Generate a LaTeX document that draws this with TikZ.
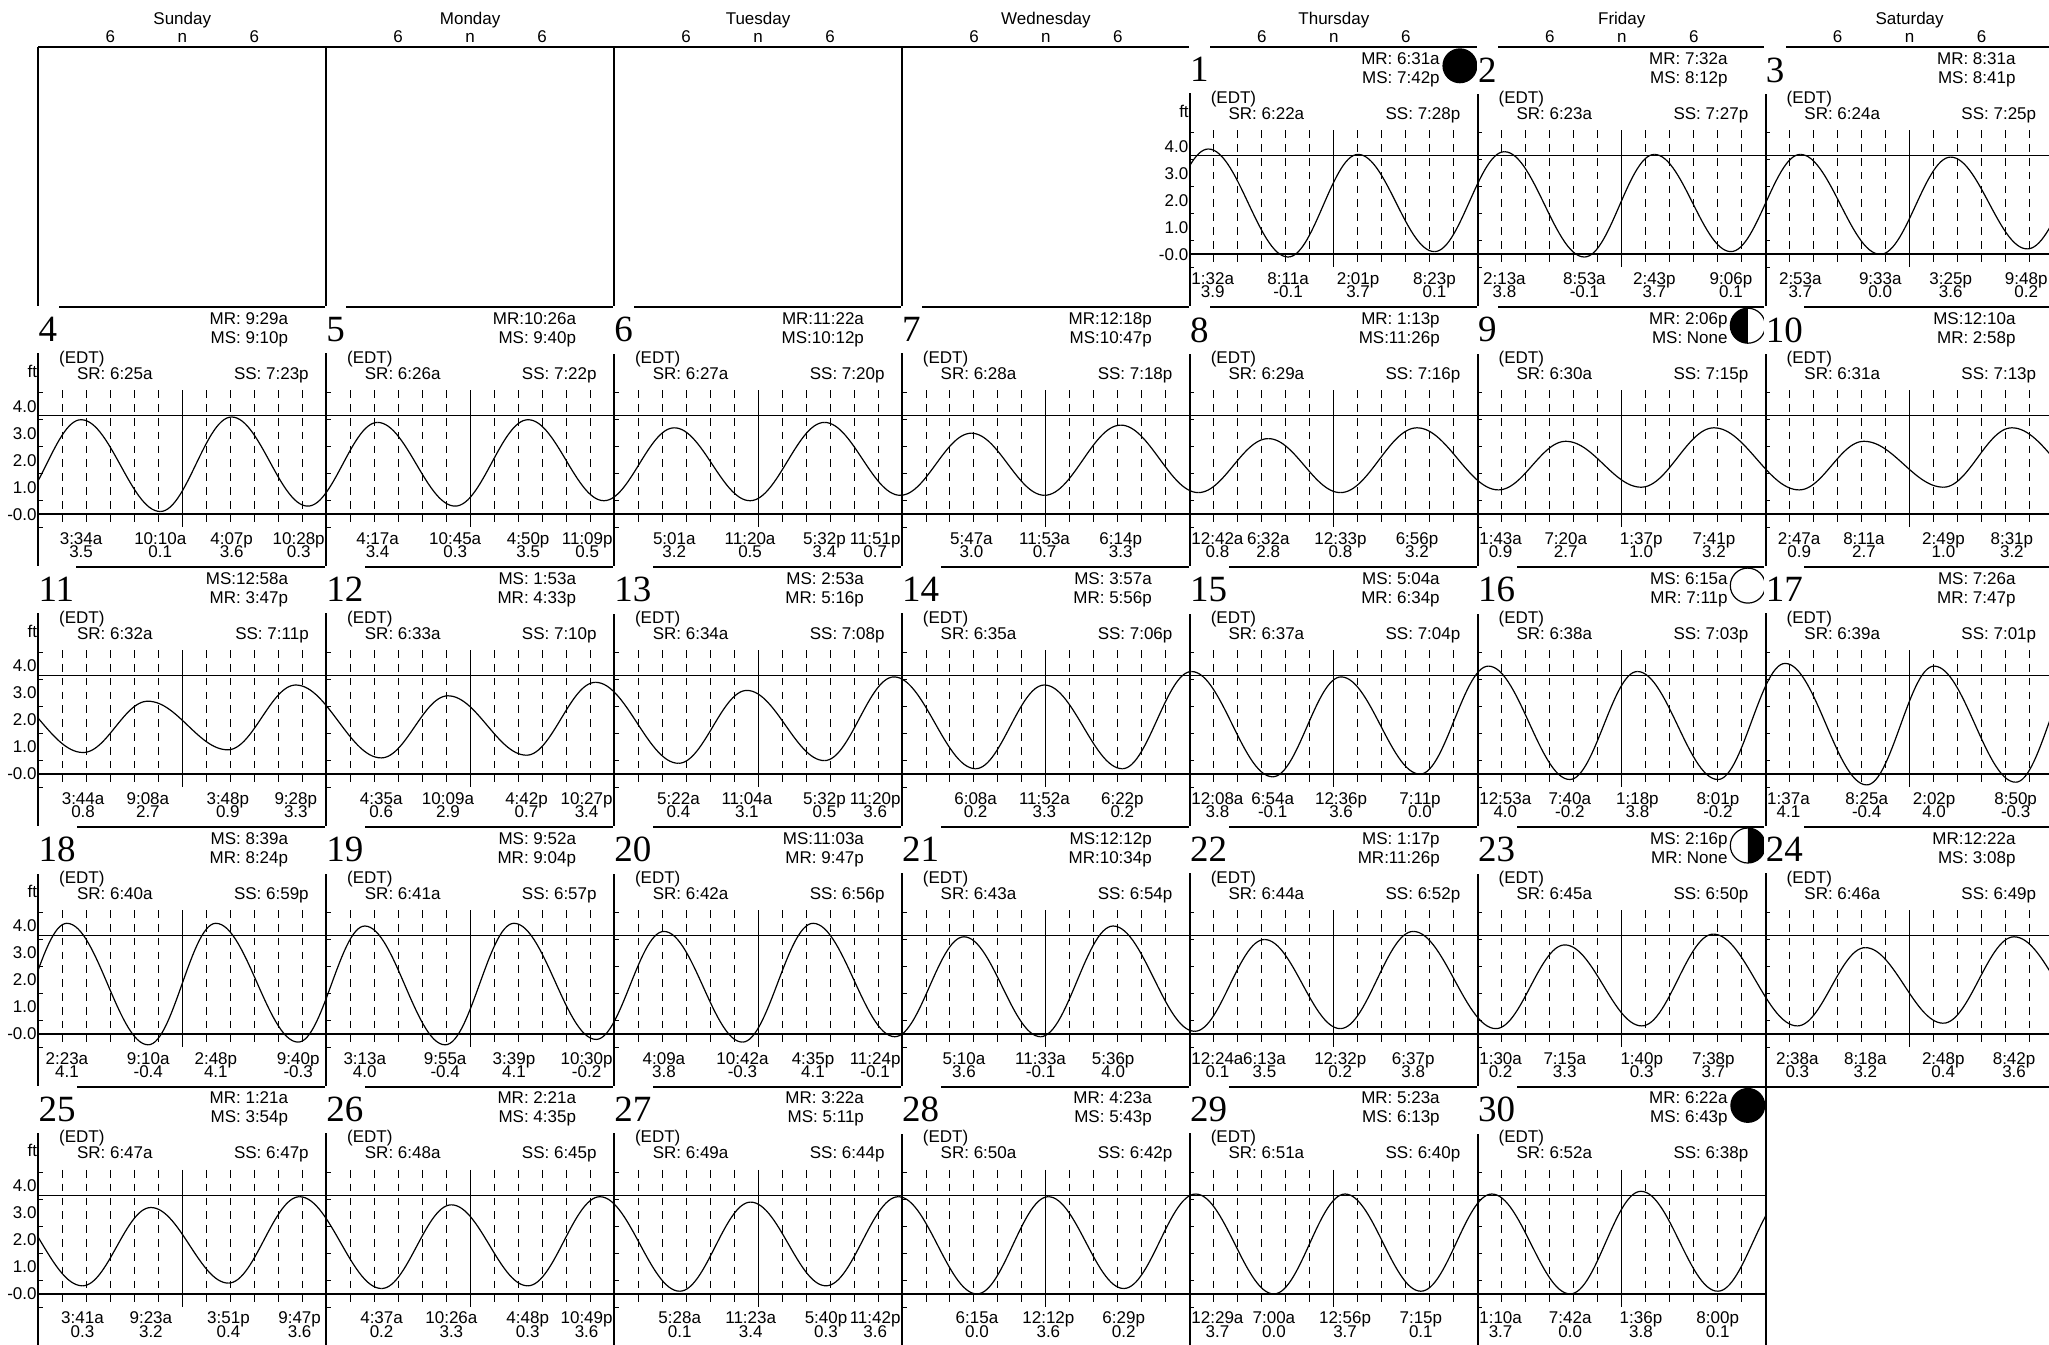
\documentclass[tikz,border=0pt]{standalone}
\usepackage{fontspec}
\setmainfont{Liberation Sans}
\newfontfamily\serifnum{Liberation Serif}
\usetikzlibrary{calc}

\newcommand{\lblfont}{\fontsize{17}{17}\selectfont}
\tikzset{
  cellborder/.style={line width=2.3pt},
  refline/.style={line width=1pt},
  hourline/.style={line width=1pt,dash pattern=on 7.7pt off 6.13pt},
  tidecurve/.style={line width=1.2pt,line join=round},
  lbl/.style={font=\lblfont,inner sep=0pt},
  daynum/.style={font=\serifnum\fontsize{37}{37}\selectfont,fill=white,inner xsep=1.5pt,inner ysep=11.5pt,anchor=north west},
  moon/.style={line width=1.2pt}
}

\newcommand{\daycell}[8]{%
  \pgfmathsetmacro\cx{38.3+#1*287.9}%
  \pgfmathsetmacro\cy{47.3+#2*259.9}%
  \node[daynum] (day#3) at (\cx-1.5,\cy-1.5) {#3};
  \node[lbl,anchor=base east] (mr#3) at (\cx+250,\cy+17) {#4};
  \node[lbl,anchor=base east] (ms#3) at (\cx+250,\cy+36) {#5};
  \node[lbl,anchor=base west] (edt#3) at (\cx+20.7,\cy+56) {(EDT)};
  \node[lbl,anchor=base west] (sr#3) at (\cx+38.5,\cy+72) {SR: #6};
  \node[lbl,anchor=base east] (ss#3) at (\cx+270.6,\cy+72) {SS: #7};
  \pgfmathsetmacro\mx{\cx+270}%
  \pgfmathsetmacro\my{\cy+18.5}%
  \ifcase#8\relax
  \or
    \fill (\mx,\my) circle[radius=17.5];
  \or
    \draw[moon,fill=white] (\mx,\my) circle[radius=17.5];
    \begin{scope}
      \clip (\mx-20,\my-20) rectangle (\mx,\my+20);
      \fill (\mx,\my) circle[radius=17.5];
    \end{scope}
  \or
    \draw[moon,fill=white] (\mx,\my) circle[radius=17.5];
  \or
    \draw[moon,fill=white] (\mx,\my) circle[radius=17.5];
    \begin{scope}
      \clip (\mx,\my-20) rectangle (\mx+20,\my+20);
      \fill (\mx,\my) circle[radius=17.5];
    \end{scope}
  \fi
}

\newcommand{\tiderow}[4]{%
  \pgfmathsetmacro\ry{47.3+#1*259.9}%
  \pgfmathsetmacro\ax{\ry+207}%
  \pgfmathsetmacro\xa{38.3+#2*287.9}%
  \pgfmathsetmacro\xb{min(38.3+(#3+1)*287.9,2049)}%
  \foreach \col in {#2,...,#3} {
    \pgfmathsetmacro\cx{38.3+\col*287.9}
    \foreach \hr in {2,4,6,8,10,14,16,18,20,22}
      \draw[hourline] (\cx+\hr*11.996,\ry+83) -- (\cx+\hr*11.996,\ry+215.2);
    \draw[refline] (\cx+143.95,\ry+83) -- (\cx+143.95,\ry+220);
    \foreach \v in {-0.5,0.5,...,4.5}
      \draw[refline] ({\cx},{\ax-27*(\v)}) -- ++(4.5,0);
  }
  \draw[refline] (\xa,\ry+108.4) -- (\xb,\ry+108.4);
  \draw[cellborder] (\xa,\ax) -- (\xb,\ax);
  \foreach \v/\tx in {0/-0.0,1/1.0,2/2.0,3/3.0,4/4.0}
    \node[lbl,anchor=east] (ft#1-\v) at (\xa-1.5,\ax-27*\v) {\tx};
  \node[lbl,anchor=base east] (ft#1) at (\xa-1,\ry+70) {ft};
  \begin{scope}
    \clip (\xa,\ry) rectangle (\xb,\ry+259.9);
    \foreach \col/\hh/\mm/\hv/\tm/\s [count=\i, evaluate=\col as \tnow using \col*24+\hh+\mm/60, remember=\tnow as \tprev (initially 0), remember=\hv as \hprev (initially 0)] in #4 {
      \ifnum\i>1
        \draw[tidecurve] plot[domain=\tprev:\tnow,samples=30] ({38.3+\x*11.996},{\ax-27*((\hprev+\hv)/2+(\hprev-\hv)/2*cos(180*(\x-(\tprev))/(\tnow-(\tprev))))});
      \fi
      \ifnum\s=1
        \pgfmathsetmacro\hw{0.85*width("\tm")}
        \pgfmathsetmacro\cl{38.3+\col*287.9}
        \pgfmathsetmacro\lx{max(\cl+\hw+1.5,min(38.3+\tnow*11.996,min(\cl+287.9,2049)-\hw-1.5))}
        \node[lbl,anchor=base] (tm#1-\i) at (\lx,\ry+237) {\tm};
        \node[lbl,anchor=base,fill=white] (ht#1-\i) at (\lx,\ry+250.5) {\hv};
      \fi
    }
  \end{scope}
}

\def\tidesA{3/19/45/0.2/x/0,4/1/32/3.9/1:32a/1,4/8/11/-0.1/8:11a/1,4/14/1/3.7/2:01p/1,4/20/23/0.1/8:23p/1,5/2/13/3.8/2:13a/1,5/8/53/-0.1/8:53a/1,5/14/43/3.7/2:43p/1,5/21/6/0.1/9:06p/1,6/2/53/3.7/2:53a/1,6/9/33/0.0/9:33a/1,6/15/25/3.6/3:25p/1,6/21/48/0.2/9:48p/1,7/3/34/3.5/x/0}
\def\tidesB{-1/21/48/0.2/x/0,0/3/34/3.5/3:34a/1,0/10/10/0.1/10:10a/1,0/16/7/3.6/4:07p/1,0/22/28/0.3/10:28p/1,1/4/17/3.4/4:17a/1,1/10/45/0.3/10:45a/1,1/16/50/3.5/4:50p/1,1/23/9/0.5/11:09p/1,2/5/1/3.2/5:01a/1,2/11/20/0.5/11:20a/1,2/17/32/3.4/5:32p/1,2/23/51/0.7/11:51p/1,3/5/47/3.0/5:47a/1,3/11/53/0.7/11:53a/1,3/18/14/3.3/6:14p/1,4/0/42/0.8/12:42a/1,4/6/32/2.8/6:32a/1,4/12/33/0.8/12:33p/1,4/18/56/3.2/6:56p/1,5/1/43/0.9/1:43a/1,5/7/20/2.7/7:20a/1,5/13/37/1.0/1:37p/1,5/19/41/3.2/7:41p/1,6/2/47/0.9/2:47a/1,6/8/11/2.7/8:11a/1,6/14/49/1.0/2:49p/1,6/20/31/3.2/8:31p/1,7/3/44/0.8/x/0}
\def\tidesC{-1/20/31/3.2/x/0,0/3/44/0.8/3:44a/1,0/9/8/2.7/9:08a/1,0/15/48/0.9/3:48p/1,0/21/28/3.3/9:28p/1,1/4/35/0.6/4:35a/1,1/10/9/2.9/10:09a/1,1/16/42/0.7/4:42p/1,1/22/27/3.4/10:27p/1,2/5/22/0.4/5:22a/1,2/11/4/3.1/11:04a/1,2/17/32/0.5/5:32p/1,2/23/20/3.6/11:20p/1,3/6/8/0.2/6:08a/1,3/11/52/3.3/11:52a/1,3/18/22/0.2/6:22p/1,4/0/8/3.8/12:08a/1,4/6/54/-0.1/6:54a/1,4/12/36/3.6/12:36p/1,4/19/11/0.0/7:11p/1,5/0/53/4.0/12:53a/1,5/7/40/-0.2/7:40a/1,5/13/18/3.8/1:18p/1,5/20/1/-0.2/8:01p/1,6/1/37/4.1/1:37a/1,6/8/25/-0.4/8:25a/1,6/14/2/4.0/2:02p/1,6/20/50/-0.3/8:50p/1,7/2/23/4.1/x/0}
\def\tidesD{-1/20/50/-0.3/x/0,0/2/23/4.1/2:23a/1,0/9/10/-0.4/9:10a/1,0/14/48/4.1/2:48p/1,0/21/40/-0.3/9:40p/1,1/3/13/4.0/3:13a/1,1/9/55/-0.4/9:55a/1,1/15/39/4.1/3:39p/1,1/22/30/-0.2/10:30p/1,2/4/9/3.8/4:09a/1,2/10/42/-0.3/10:42a/1,2/16/35/4.1/4:35p/1,2/23/24/-0.1/11:24p/1,3/5/10/3.6/5:10a/1,3/11/33/-0.1/11:33a/1,3/17/36/4.0/5:36p/1,4/0/24/0.1/12:24a/1,4/6/13/3.5/6:13a/1,4/12/32/0.2/12:32p/1,4/18/37/3.8/6:37p/1,5/1/30/0.2/1:30a/1,5/7/15/3.3/7:15a/1,5/13/40/0.3/1:40p/1,5/19/38/3.7/7:38p/1,6/2/38/0.3/2:38a/1,6/8/18/3.2/8:18a/1,6/14/48/0.4/2:48p/1,6/20/42/3.6/8:42p/1,7/3/41/0.3/x/0}
\def\tidesE{-1/20/42/3.6/x/0,0/3/41/0.3/3:41a/1,0/9/23/3.2/9:23a/1,0/15/51/0.4/3:51p/1,0/21/47/3.6/9:47p/1,1/4/37/0.2/4:37a/1,1/10/26/3.3/10:26a/1,1/16/48/0.3/4:48p/1,1/22/49/3.6/10:49p/1,2/5/28/0.1/5:28a/1,2/11/23/3.4/11:23a/1,2/17/40/0.3/5:40p/1,2/23/42/3.6/11:42p/1,3/6/15/0.0/6:15a/1,3/12/12/3.6/12:12p/1,3/18/29/0.2/6:29p/1,4/0/29/3.7/12:29a/1,4/7/0/0.0/7:00a/1,4/12/56/3.7/12:56p/1,4/19/15/0.1/7:15p/1,5/1/10/3.7/1:10a/1,5/7/42/0.0/7:42a/1,5/13/36/3.8/1:36p/1,5/20/0/0.1/8:00p/1,6/1/50/3.7/x/0}

\begin{document}
\begin{tikzpicture}[x=1pt,y=-1pt]
\useasboundingbox (0,0) rectangle (2049,1344);
\foreach \d [count=\i from 0] in {Sunday,Monday,Tuesday,Wednesday,Thursday,Friday,Saturday} {
  \node[lbl,anchor=base] (wd\i) at (38.3+\i*287.9+143.95,24) {\d};
  \foreach \hr/\mk in {6/6,12/n,18/6}
    \node[lbl,anchor=base] (hd\i-\hr) at (38.3+\i*287.9+\hr*11.996,42.7) {\mk};
}
\foreach \r in {0,...,4}
  \draw[cellborder] (38.3,47.3+\r*259.9) -- (2049,47.3+\r*259.9);
\foreach \r in {0,...,4}
  \foreach \c in {0,...,6}
    \draw[cellborder] (38.3+\c*287.9,47.3+\r*259.9) -- ++(0,259.9);

\tiderow{0}{4}{6}{\tidesA}
\tiderow{1}{0}{6}{\tidesB}
\tiderow{2}{0}{6}{\tidesC}
\tiderow{3}{0}{6}{\tidesD}
\tiderow{4}{0}{5}{\tidesE}

\daycell{4}{0}{1}{MR: 6:31a}{MS: 7:42p}{6:22a}{7:28p}{1}
\daycell{5}{0}{2}{MR: 7:32a}{MS: 8:12p}{6:23a}{7:27p}{0}
\daycell{6}{0}{3}{MR: 8:31a}{MS: 8:41p}{6:24a}{7:25p}{0}
\daycell{0}{1}{4}{MR: 9:29a}{MS: 9:10p}{6:25a}{7:23p}{0}
\daycell{1}{1}{5}{MR:10:26a}{MS: 9:40p}{6:26a}{7:22p}{0}
\daycell{2}{1}{6}{MR:11:22a}{MS:10:12p}{6:27a}{7:20p}{0}
\daycell{3}{1}{7}{MR:12:18p}{MS:10:47p}{6:28a}{7:18p}{0}
\daycell{4}{1}{8}{MR: 1:13p}{MS:11:26p}{6:29a}{7:16p}{0}
\daycell{5}{1}{9}{MR: 2:06p}{MS: None}{6:30a}{7:15p}{2}
\daycell{6}{1}{10}{MS:12:10a}{MR: 2:58p}{6:31a}{7:13p}{0}
\daycell{0}{2}{11}{MS:12:58a}{MR: 3:47p}{6:32a}{7:11p}{0}
\daycell{1}{2}{12}{MS: 1:53a}{MR: 4:33p}{6:33a}{7:10p}{0}
\daycell{2}{2}{13}{MS: 2:53a}{MR: 5:16p}{6:34a}{7:08p}{0}
\daycell{3}{2}{14}{MS: 3:57a}{MR: 5:56p}{6:35a}{7:06p}{0}
\daycell{4}{2}{15}{MS: 5:04a}{MR: 6:34p}{6:37a}{7:04p}{0}
\daycell{5}{2}{16}{MS: 6:15a}{MR: 7:11p}{6:38a}{7:03p}{3}
\daycell{6}{2}{17}{MS: 7:26a}{MR: 7:47p}{6:39a}{7:01p}{0}
\daycell{0}{3}{18}{MS: 8:39a}{MR: 8:24p}{6:40a}{6:59p}{0}
\daycell{1}{3}{19}{MS: 9:52a}{MR: 9:04p}{6:41a}{6:57p}{0}
\daycell{2}{3}{20}{MS:11:03a}{MR: 9:47p}{6:42a}{6:56p}{0}
\daycell{3}{3}{21}{MS:12:12p}{MR:10:34p}{6:43a}{6:54p}{0}
\daycell{4}{3}{22}{MS: 1:17p}{MR:11:26p}{6:44a}{6:52p}{0}
\daycell{5}{3}{23}{MS: 2:16p}{MR: None}{6:45a}{6:50p}{4}
\daycell{6}{3}{24}{MR:12:22a}{MS: 3:08p}{6:46a}{6:49p}{0}
\daycell{0}{4}{25}{MR: 1:21a}{MS: 3:54p}{6:47a}{6:47p}{0}
\daycell{1}{4}{26}{MR: 2:21a}{MS: 4:35p}{6:48a}{6:45p}{0}
\daycell{2}{4}{27}{MR: 3:22a}{MS: 5:11p}{6:49a}{6:44p}{0}
\daycell{3}{4}{28}{MR: 4:23a}{MS: 5:43p}{6:50a}{6:42p}{0}
\daycell{4}{4}{29}{MR: 5:23a}{MS: 6:13p}{6:51a}{6:40p}{0}
\daycell{5}{4}{30}{MR: 6:22a}{MS: 6:43p}{6:52a}{6:38p}{1}
\end{tikzpicture}
\end{document}
